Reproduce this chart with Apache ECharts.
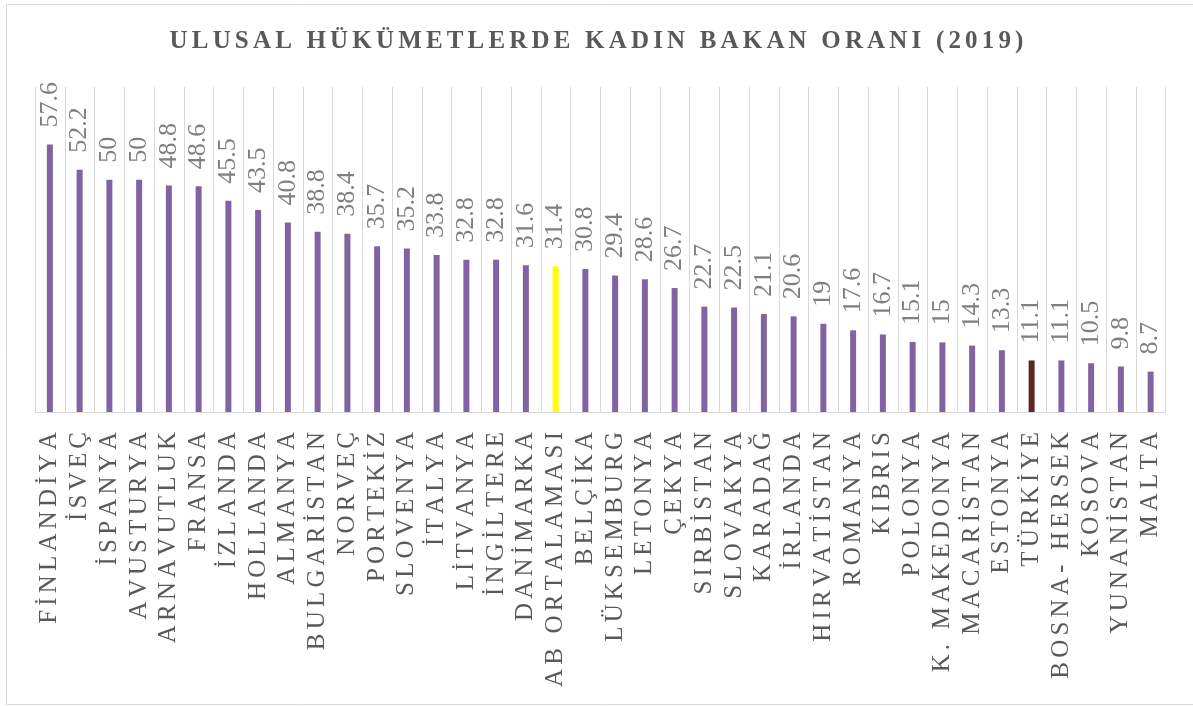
<!DOCTYPE html>
<html>
<head>
<meta charset="utf-8">
<script src="https://cdn.jsdelivr.net/npm/echarts@6/dist/echarts.min.js"></script>
<style>
  html, body { margin: 0; padding: 0; background: #fff; }
  #chart { width: 1193px; height: 706px; }
</style>
</head>
<body>
<div id="chart"></div>
<script>
const countries = [
  'FİNLANDİYA', 'İSVEÇ', 'İSPANYA', 'AVUSTURYA', 'ARNAVUTLUK', 'FRANSA', 'İZLANDA',
  'HOLLANDA', 'ALMANYA', 'BULGARİSTAN', 'NORVEÇ', 'PORTEKİZ', 'SLOVENYA', 'İTALYA',
  'LİTVANYA', 'İNGİLTERE', 'DANİMARKA', 'AB ORTALAMASI', 'BELÇİKA', 'LÜKSEMBURG',
  'LETONYA', 'ÇEKYA', 'SIRBİSTAN', 'SLOVAKYA', 'KARADAĞ', 'İRLANDA', 'HIRVATİSTAN',
  'ROMANYA', 'KIBRIS', 'POLONYA', 'K. MAKEDONYA', 'MACARİSTAN', 'ESTONYA', 'TÜRKİYE',
  'BOSNA- HERSEK', 'KOSOVA', 'YUNANİSTAN', 'MALTA'
]
const ratios = [
  57.6, 52.2, 50, 50, 48.8, 48.6, 45.5,
  43.5, 40.8, 38.8, 38.4, 35.7, 35.2, 33.8,
  32.8, 32.8, 31.6, 31.4, 30.8, 29.4,
  28.6, 26.7, 22.7, 22.5, 21.1, 20.6, 19,
  17.6, 16.7, 15.1, 15, 14.3, 13.3, 11.1,
  11.1, 10.5, 9.8, 8.7
]
const highlight = { 'AB ORTALAMASI': '#FFFF00', 'TÜRKİYE': '#632523' }
const titleText = 'ULUSAL HÜKÜMETLERDE KADIN BAKAN ORANI (2019)'

// canvas has no letter-spacing, so pad characters with hair spaces
const spaced = (s, gap) => s.split('').join(gap)

const chart = echarts.init(document.getElementById('chart'), null, { renderer: 'canvas' })

chart.setOption({
  animation: false,
  title: {
    text: spaced(titleText, '\u200A\u200A'),
    left: 'center',
    top: 24,
    textStyle: {
      fontFamily: 'Liberation Serif',
      fontSize: 25,
      fontWeight: 'bold',
      color: '#595959'
    }
  },
  graphic: [{
    type: 'rect',
    shape: { x: 6.5, y: 4.5, width: 1190, height: 700 },
    style: { fill: null, stroke: '#D9D9D9', lineWidth: 1 },
    silent: true
  }],
  grid: { left: 35, right: 27.5, top: 87, bottom: 294 },
  xAxis: {
    type: 'category',
    data: countries,
    axisLine: { lineStyle: { color: '#D9D9D9', width: 1 } },
    axisTick: { show: false },
    splitLine: { show: true, lineStyle: { color: '#D9D9D9', width: 1 } },
    axisLabel: {
      interval: 0,
      rotate: 90,
      margin: 20,
      fontFamily: 'Liberation Serif',
      fontSize: 25,
      color: '#595959',
      formatter: v => spaced(v, '\u200A\u200A')
    }
  },
  yAxis: {
    type: 'value',
    min: 0,
    max: 70,
    show: false
  },
  series: [{
    type: 'bar',
    barWidth: 6,
    data: ratios.map((v, i) => ({
      value: v,
      itemStyle: { color: highlight[countries[i]] || '#8064A2' }
    })),
    label: {
      show: true,
      position: 'top',
      rotate: 90,
      align: 'left',
      verticalAlign: 'middle',
      distance: 16,
      offset: [1, 0],
      fontFamily: 'Liberation Serif',
      fontSize: 26,
      color: '#7F7F7F'
    }
  }]
})
</script>
</body>
</html>
